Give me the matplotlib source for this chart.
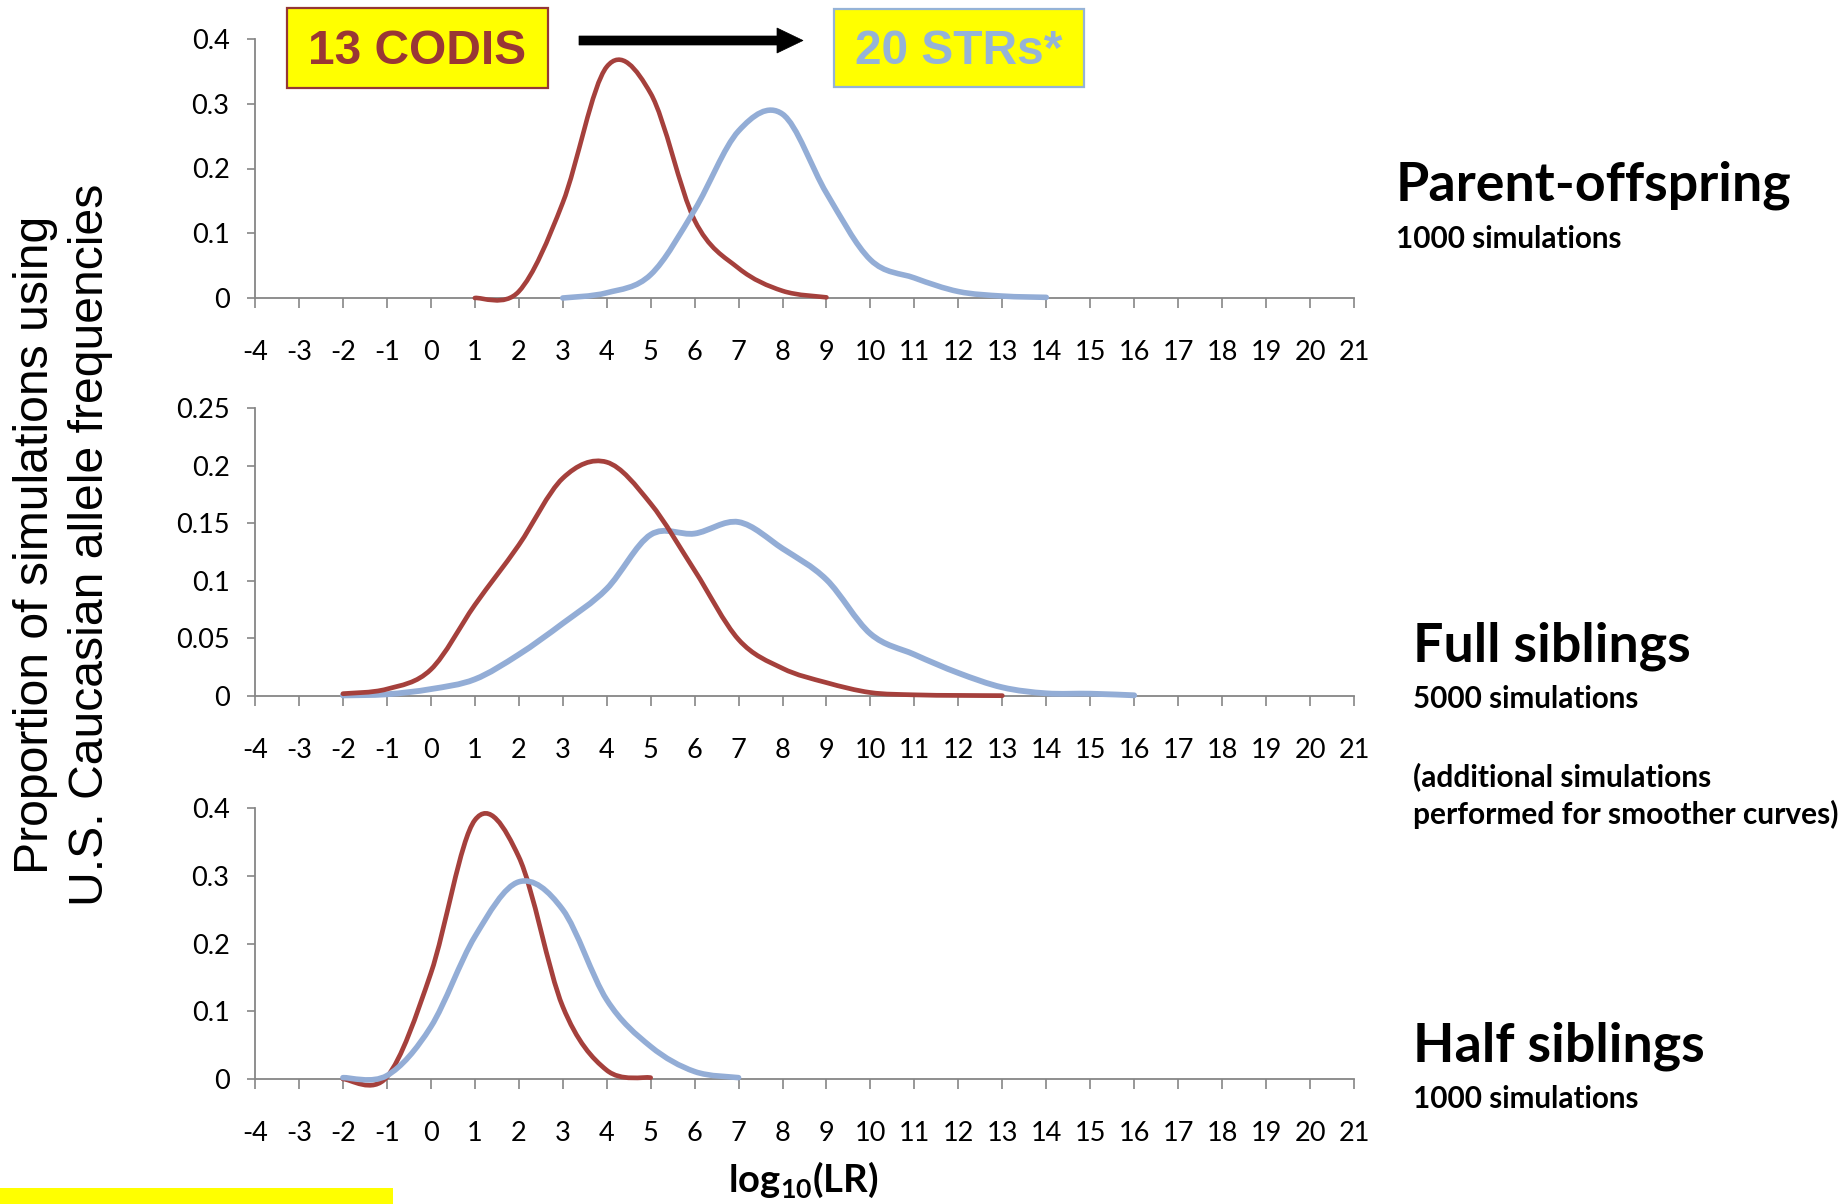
import numpy as np
import matplotlib
matplotlib.use("Agg")
import matplotlib.pyplot as plt
from matplotlib.path import Path
from matplotlib.patches import PathPatch, Rectangle, Polygon

# ---- data: proportion of simulations per log10(LR) bin ----
po_codis_x = [1, 2, 3, 4, 5, 6, 7, 8, 9]
po_codis_y = [0.0, 0.01, 0.147, 0.357, 0.316, 0.12, 0.046, 0.011, 0.001]
po_str_x = [3, 4, 5, 6, 7, 8, 9, 10, 11, 12, 13, 14]
po_str_y = [0.0, 0.008, 0.036, 0.136, 0.258, 0.284, 0.162, 0.059, 0.031, 0.010, 0.003, 0.001]

fs_codis_x = [-2, -1, 0, 1, 2, 3, 4, 5, 6, 7, 8, 9, 10, 11, 12, 13]
fs_codis_y = [0.002, 0.006, 0.023, 0.079, 0.131, 0.189, 0.203, 0.167, 0.109, 0.049,
              0.024, 0.0116, 0.003, 0.001, 0.0005, 0.0003]
fs_str_x = [-2, -1, 0, 1, 2, 3, 4, 5, 6, 7, 8, 9, 10, 11, 12, 13, 14, 15, 16]
fs_str_y = [0.0005, 0.0015, 0.006, 0.0145, 0.036, 0.063, 0.093, 0.140, 0.141, 0.151,
            0.128, 0.101, 0.054, 0.036, 0.020, 0.0075, 0.0023, 0.002, 0.0006]

hs_codis_x = [-2, -1, 0, 1, 2, 3, 4, 5]
hs_codis_y = [0.0, 0.003, 0.156, 0.382, 0.328, 0.107, 0.013, 0.002]
hs_str_x = [-2, -1, 0, 1, 2, 3, 4, 5, 6, 7]
hs_str_y = [0.002, 0.005, 0.077, 0.21, 0.291, 0.25, 0.117, 0.048, 0.011, 0.002]

x_ticks = list(range(-4, 22))
y_ticks_a = [0, 0.1, 0.2, 0.3, 0.4]
y_labels_a = ["0", "0.1", "0.2", "0.3", "0.4"]
y_ticks_b = [0, 0.05, 0.1, 0.15, 0.2, 0.25]
y_labels_b = ["0", "0.05", "0.1", "0.15", "0.2", "0.25"]

RED = "#A5403C"
BLUE = "#93ADD6"
AXIS = "#868686"

plt.rcParams["font.family"] = ["Lato", "DejaVu Sans"]
plt.rcParams["mathtext.fontset"] = "custom"
plt.rcParams["mathtext.rm"] = "Lato"
plt.rcParams["mathtext.bf"] = "Lato:bold"

W, H = 1843, 1204
fig = plt.figure(figsize=(W / 100, H / 100), dpi=100)


def fx(px):
    return px / W


def fy(py):
    return 1 - py / H


def smooth_path(xs, ys):
    """Cubic Bezier path through the points (spreadsheet-style smoothing)."""
    pts = np.column_stack([xs, ys]).astype(float)
    n = len(pts)
    verts = [pts[0]]
    codes = [Path.MOVETO]
    for i in range(n - 1):
        p0 = pts[i - 1] if i > 0 else pts[i]
        p1 = pts[i]
        p2 = pts[i + 1]
        p3 = pts[i + 2] if i + 2 < n else pts[i + 1]
        c1 = p1 + (p2 - p0) / 6.0
        c2 = p2 - (p3 - p1) / 6.0
        verts += [c1, c2, p2]
        codes += [Path.CURVE4] * 3
    return Path(verts, codes)


def panel(top_px, bottom_px, ymax, yt, ytl, series):
    ax = fig.add_axes([fx(255), fy(bottom_px), fx(1354) - fx(255), (bottom_px - top_px) / H])
    ax.set_xlim(-4, 21)
    ax.set_ylim(0, ymax)
    ax.spines[["top", "right"]].set_visible(False)
    for s in ("left", "bottom"):
        ax.spines[s].set_color(AXIS)
        ax.spines[s].set_linewidth(1.3)
    ax.set_xticks(x_ticks)
    ax.set_xticklabels([str(v) for v in x_ticks])
    ax.set_yticks(yt)
    ax.set_yticklabels(ytl)
    ax.tick_params(axis="x", length=7.2, width=1.2, color=AXIS, pad=23, labelsize=19.5)
    ax.tick_params(axis="y", length=5.8, width=1.2, color=AXIS, pad=12.5, labelsize=19.5)
    for xs, ys, col, lw in series:
        patch = PathPatch(smooth_path(xs, ys), fill=False, edgecolor=col, lw=lw,
                          capstyle="round", joinstyle="round", clip_on=False,
                          transform=ax.transData, zorder=3)
        ax.add_patch(patch)
    return ax


panel(39, 298, 0.4, y_ticks_a, y_labels_a,
      [(po_codis_x, po_codis_y, RED, 3.3), (po_str_x, po_str_y, BLUE, 4.0)])
panel(408, 696, 0.25, y_ticks_b, y_labels_b,
      [(fs_str_x, fs_str_y, BLUE, 4.2), (fs_codis_x, fs_codis_y, RED, 3.4)])
panel(808, 1079, 0.4, y_ticks_a, y_labels_a,
      [(hs_codis_x, hs_codis_y, RED, 3.4), (hs_str_x, hs_str_y, BLUE, 4.0)])

# shared axis titles
fig.text(fx(63), fy(545), "Proportion of simulations using\nU.S. Caucasian allele frequencies",
         rotation=90, ha="center", va="center", fontsize=34.7, linespacing=1.27,
         family=["Liberation Sans", "DejaVu Sans"])
fig.text(fx(803), fy(1180), r"$\mathbf{log}_{\mathbf{10}}\mathbf{(LR)}$",
         ha="center", va="center", fontsize=27.5)

# relationship labels
def label(x, y, s, size):
    fig.text(fx(x), fy(y), s, ha="left", va="center", fontsize=size, fontweight="bold")


label(1396, 185.5, "Parent-offspring", 38.7)
label(1396, 238.5, "1000 simulations", 21.3)
label(1413, 646.5, "Full siblings", 38.7)
label(1413, 699.5, "5000 simulations", 21.3)
label(1413, 776.5, "(additional simulations", 21.5)
label(1413, 814.5, "performed for smoother curves)", 21.5)
label(1413, 1046.5, "Half siblings", 38.7)
label(1413, 1099.5, "1000 simulations", 21.3)

# marker-set boxes and arrow
def box(x0, y0, x1, y1, edge, text, tcol):
    fig.patches.append(Rectangle((fx(x0), fy(y1)), fx(x1) - fx(x0), (y1 - y0) / H,
                                 transform=fig.transFigure, facecolor="#FFFF00",
                                 edgecolor=edge, lw=1.6, zorder=5))
    fig.text(fx((x0 + x1) / 2), fy((y0 + y1) / 2 + 4), text, ha="center", va="center",
             fontsize=34.5, fontweight="bold", color=tcol, zorder=6,
             family=["Liberation Sans", "DejaVu Sans"])


box(287, 8, 548, 88, "#953735", "13 CODIS", "#993735")
box(834, 9, 1084, 87, "#95B3D7", "20 STRs*", "#95B3D7")

arrow_px = [(579, 36), (777, 36), (777, 28), (803, 40.5), (777, 53), (777, 45), (579, 45)]
fig.patches.append(Polygon([(fx(a), fy(b)) for a, b in arrow_px], closed=True,
                           transform=fig.transFigure, facecolor="black",
                           edgecolor="black", lw=0.5, zorder=5))

# highlight strip along the bottom edge
fig.patches.append(Rectangle((0, 0), fx(393), 16 / H, transform=fig.transFigure,
                             facecolor="#FFFF00", edgecolor="none", zorder=5))

fig.savefig("out.png", dpi=100)
